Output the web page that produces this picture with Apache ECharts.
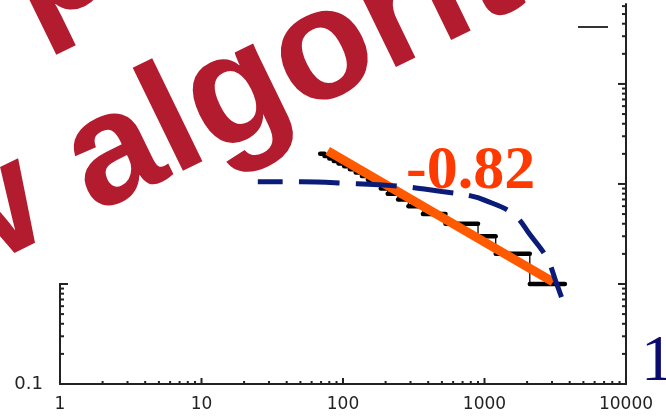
<!DOCTYPE html>
<html>
<head>
<meta charset="utf-8">
<script src="https://cdn.jsdelivr.net/npm/echarts@6/dist/echarts.min.js"></script>
<style>
  html, body { margin: 0; padding: 0; background: #fff; }
  #chart { width: 666px; height: 417px; }
</style>
</head>
<body>
<div id="chart"></div>
<script>
// rank / frequency staircase: one level per frequency, with the rank span it covers
const stepFreq = [20, 19, 18, 17, 16, 15, 14, 13, 12, 11, 10, 9, 8, 7, 6, 5, 4, 3, 2, 1];
const stepStart = [69, 74, 80, 86, 93, 102, 112, 123, 136, 150, 167, 185, 207, 245, 290, 367, 530, 900, 1200, 2090];
const stepEnd = [74, 80, 86, 93, 102, 112, 123, 136, 150, 167, 185, 207, 245, 290, 367, 530, 900, 1200, 2090, 3700];

// dashed fit curve
const fitX = [25, 51, 100, 240, 500, 800, 1000, 1600, 2100, 2770, 3200, 3500];
const fitY = [10.5, 10.5, 10.2, 9.55, 8.4, 7.6, 6.9, 5.0, 3.1, 1.8, 1.05, 0.74];

// power-law line
const slopeX = [78, 3050];
const slopeY = [21.4, 1.05];
const slopeLabel = '-0.82';

// axes
const xTickLabels = ['1', '10', '100', '1000', '10000'];
const yTickLabels = ['0.1'];
const xMajorTicks = [10, 100, 1000];
const xMinorTicks = [2, 3, 4, 5, 6, 7, 8, 9, 20, 30, 40, 50, 60, 70, 80, 90,
  200, 300, 400, 500, 600, 700, 800, 900, 2000, 3000, 4000, 5000, 6000, 7000, 8000, 9000];
const yMajorTicks = [1, 10, 100];
const yMinorTicks = [0.2, 0.3, 0.4, 0.5, 0.6, 0.7, 0.8, 0.9, 2, 3, 4, 5, 6, 7, 8, 9,
  20, 30, 40, 50, 60, 70, 80, 90, 200, 300, 400, 500, 600];
const yLeftMajorTicks = [1];
const yLeftMinorTicks = [0.2, 0.3, 0.4, 0.5, 0.6, 0.7, 0.8, 0.9];

const AXIS = '#222';
const RED = '#b31b2f';
const ROT = 26 * Math.PI / 180;

const chart = echarts.init(document.getElementById('chart'), null, { renderer: 'canvas' });

// short tick marks drawn through the axes' own scales
const tickSeries = (data, side, len) => ({
  type: 'custom',
  silent: true,
  clip: false,
  z: 5,
  data: data,
  renderItem(params, api) {
    const p = api.coord([api.value(0), api.value(1)]);
    let x2 = p[0];
    let y2 = p[1];
    if (side === 'bottom') y2 -= len;
    else if (side === 'right') x2 -= len;
    else x2 += len;
    return {
      type: 'line',
      shape: { x1: p[0], y1: p[1], x2: x2, y2: y2 },
      style: { stroke: AXIS, lineWidth: 2 },
    };
  },
});

const stairLine = [];
stepFreq.forEach((f, i) => {
  stairLine.push([stepStart[i], f]);
  stairLine.push([stepEnd[i], f]);
});

const option = {
  animation: false,
  backgroundColor: '#fff',
  grid: { left: 60, right: 40, top: 4, bottom: 33 },
  xAxis: {
    type: 'log',
    logBase: 10,
    min: 1,
    max: 10000,
    axisLine: { lineStyle: { color: AXIS, width: 2 } },
    axisTick: { show: false },
    splitLine: { show: false },
    axisLabel: {
      color: AXIS,
      fontFamily: 'DejaVu Sans',
      fontSize: 17,
      margin: 12,
      formatter: (v) => {
        const s = String(Math.round(v));
        return xTickLabels.includes(s) ? s : '';
      },
    },
  },
  yAxis: [
    {
      type: 'log',
      logBase: 10,
      min: 0.1,
      max: 630,
      position: 'right',
      axisLine: { show: true, lineStyle: { color: AXIS, width: 2 } },
      axisTick: { show: false },
      axisLabel: { show: false },
      splitLine: { show: false },
    },
    {
      type: 'log',
      logBase: 10,
      min: 0.1,
      max: 630,
      position: 'left',
      axisLine: { show: false },
      axisTick: { show: false },
      splitLine: { show: false },
      axisLabel: {
        color: AXIS,
        fontFamily: 'DejaVu Sans',
        fontSize: 18,
        margin: 17,
        padding: [16, 0, 0, 0],
        formatter: (v) => (yTickLabels.includes(String(v)) ? String(v) : ''),
      },
    },
  ],
  graphic: [
    {
      type: 'text', x: -75, y: 248, rotation: ROT, z: 100,
      style: { text: 'w algorithm', font: 'bold 158px "Liberation Sans"', fill: RED, align: 'left', verticalAlign: 'middle' },
    },
    {
      type: 'text', x: 13, y: -9, rotation: ROT, z: 100,
      style: { text: 'p', font: 'bold 158px "Liberation Sans"', fill: RED, align: 'left', verticalAlign: 'middle' },
    },
    {
      type: 'text', x: 406, y: 172, z: 90,
      style: { text: slopeLabel, font: 'bold 62px "Liberation Serif"', fill: '#ff3a00', align: 'left', verticalAlign: 'middle' },
    },
    {
      type: 'text', x: 641, y: 363, z: 90,
      style: { text: '1', font: '65px "Liberation Serif"', fill: '#0b0b6e', align: 'left', verticalAlign: 'middle' },
    },
    {
      type: 'line', z: 90,
      shape: { x1: 578, y1: 27, x2: 608, y2: 27 },
      style: { stroke: '#333', lineWidth: 2 },
    },
  ],
  series: [
    {
      // thin staircase outline
      type: 'line',
      data: stairLine,
      symbol: 'none',
      z: 2,
      lineStyle: { color: '#000', width: 1.3 },
    },
    {
      // heavy horizontal bar for every frequency level
      type: 'custom',
      silent: true,
      z: 2,
      data: stepFreq.map((f, i) => [stepStart[i], f, stepEnd[i]]),
      renderItem(params, api) {
        const a = api.coord([api.value(0), api.value(1)]);
        const b = api.coord([api.value(2), api.value(1)]);
        return {
          type: 'line',
          shape: { x1: a[0], y1: a[1], x2: b[0], y2: b[1] },
          style: { stroke: '#000', lineWidth: 4.5, lineCap: 'round' },
        };
      },
    },
    {
      type: 'line',
      data: slopeX.map((x, i) => [x, slopeY[i]]),
      symbol: 'none',
      z: 3,
      lineStyle: { color: '#ff5a00', width: 9, cap: 'butt' },
    },
    {
      type: 'line',
      data: fitX.map((x, i) => [x, fitY[i]]),
      symbol: 'none',
      smooth: 0.4,
      z: 4,
      lineStyle: { color: '#0a1c78', width: 5, type: [41, 16], dashOffset: 16 },
    },
    // left spine, only between 0.1 and 1
    {
      type: 'custom',
      silent: true,
      clip: false,
      z: 5,
      data: [[1, 0.1, 1]],
      renderItem(params, api) {
        const a = api.coord([api.value(0), api.value(1)]);
        const b = api.coord([api.value(0), api.value(2)]);
        return {
          type: 'line',
          shape: { x1: a[0], y1: a[1] + 1, x2: b[0], y2: b[1] - 1 },
          style: { stroke: AXIS, lineWidth: 2 },
        };
      },
    },
    tickSeries(xMajorTicks.map((v) => [v, 0.1]), 'bottom', 6),
    tickSeries(xMinorTicks.map((v) => [v, 0.1]), 'bottom', 3),
    tickSeries(yMajorTicks.map((v) => [10000, v]), 'right', 8),
    tickSeries(yMinorTicks.map((v) => [10000, v]), 'right', 4),
    tickSeries(yLeftMajorTicks.map((v) => [1, v]), 'left', 8),
    tickSeries(yLeftMinorTicks.map((v) => [1, v]), 'left', 4),
  ],
};

chart.setOption(option);
</script>
</body>
</html>
